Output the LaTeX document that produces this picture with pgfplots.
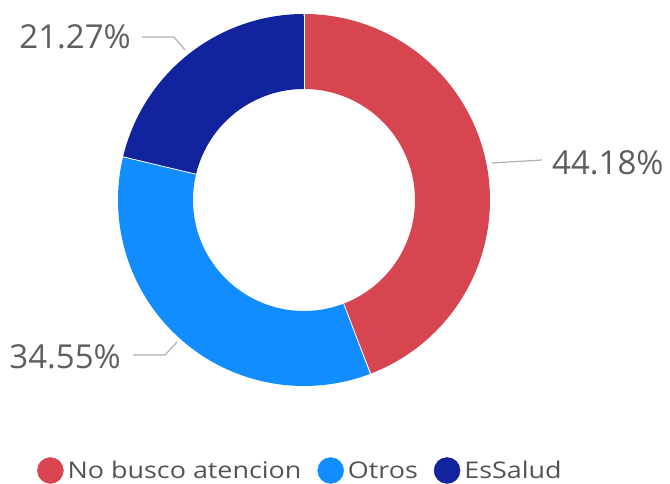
\documentclass[border=0pt]{standalone}
\usepackage{pgfplots}
\pgfplotsset{compat=1.18}
\usepackage{pgfplotstable}
\usepackage{fontspec}
\setmainfont{Open Sans}
\newfontfamily\legfont[FakeStretch=1.17]{Open Sans}
\definecolor{cRed}{HTML}{D64550}
\definecolor{cBlue}{HTML}{118DFF}
\definecolor{cDark}{HTML}{12239E}
\definecolor{cLab}{HTML}{605E5C}
\definecolor{cLeg}{HTML}{555351}
\definecolor{cLine}{HTML}{B3B0AD}

\pgfplotstableread{
label value
NoBusco 44.18
Otros 34.55
EsSalud 21.27
}\datatable
\pgfplotstablegetelem{0}{value}\of\datatable \let\va\pgfplotsretval
\pgfplotstablegetelem{1}{value}\of\datatable \let\vb\pgfplotsretval
\pgfplotstablegetelem{2}{value}\of\datatable \let\vc\pgfplotsretval
\pgfmathsetmacro{\aA}{90}
\pgfmathsetmacro{\aB}{90-3.6*\va}
\pgfmathsetmacro{\aC}{\aB-3.6*\vb}
\pgfmathsetmacro{\aD}{\aC-3.6*\vc}
\def\cx{304}
\def\cy{284}
\def\rm{148.5}

\begin{document}
\begin{tikzpicture}
\begin{axis}[
  width=670pt, height=484pt, scale only axis,
  xmin=0, xmax=670, ymin=0, ymax=484,
  axis lines=none, clip=false,
  legend columns=3,
  legend style={at={(axis cs:37,13.5)}, anchor=west, draw=none, fill=none,
    font=\legfont\fontsize{23}{26}\selectfont\color{cLeg},
    inner sep=0pt, row sep=0pt,
    nodes={inner xsep=0pt, inner ysep=0pt},
    /tikz/every even column/.append style={column sep=16pt},
    /tikz/every odd column/.append style={column sep=4pt}},
]
\path (axis cs:0,0) rectangle (axis cs:670,484);
% slices
\addplot[forget plot, draw=cRed, line width=75pt, domain=\aB:\aA, samples=120]
  ({\cx+\rm*cos(x)}, {\cy+\rm*sin(x)});
\addplot[forget plot, draw=cBlue, line width=75pt, domain=\aC:\aB, samples=120]
  ({\cx+\rm*cos(x)}, {\cy+\rm*sin(x)});
\addplot[forget plot, draw=cDark, line width=75pt, domain=\aD:\aC, samples=120]
  ({\cx+\rm*cos(x)}, {\cy+\rm*sin(x)});
% white separators
\addplot[forget plot, draw=white, line width=0.8pt, domain=110:187, samples=2] ({\cx+x*cos(\aA)}, {\cy+x*sin(\aA)});
\addplot[forget plot, draw=white, line width=0.8pt, domain=110:187, samples=2] ({\cx+x*cos(\aB)}, {\cy+x*sin(\aB)});
\addplot[forget plot, draw=white, line width=0.8pt, domain=110:187, samples=2] ({\cx+x*cos(\aC)}, {\cy+x*sin(\aC)});
% leader lines
\draw[cLine, line width=1.2pt] (axis cs:142,447) -- (axis cs:174,447) -- (axis cs:185,434);
\draw[cLine, line width=1.2pt] (axis cs:492,321) -- (axis cs:542,324);
\draw[cLine, line width=1.2pt] (axis cs:133,129) -- (axis cs:165,129) -- (axis cs:177,142);
% labels
\node[anchor=east, text=cLab, font=\fontsize{33}{38}\selectfont, inner sep=0pt] at (axis cs:131,447.5) {21.27\%};
\node[anchor=west, text=cLab, font=\fontsize{33}{38}\selectfont, inner sep=0pt] at (axis cs:552,321) {44.18\%};
\node[anchor=east, text=cLab, font=\fontsize{33}{38}\selectfont, inner sep=0pt] at (axis cs:121,127) {34.55\%};
% legend
\addlegendimage{legend image code/.code={\fill[cRed] (13pt,0) circle (13pt);}}
\addlegendentry{No busco atencion}
\addlegendimage{legend image code/.code={\fill[cBlue] (13pt,0) circle (13pt);}}
\addlegendentry{Otros}
\addlegendimage{legend image code/.code={\fill[cDark] (13pt,0) circle (13pt);}}
\addlegendentry{EsSalud}
\end{axis}
\end{tikzpicture}
\end{document}
